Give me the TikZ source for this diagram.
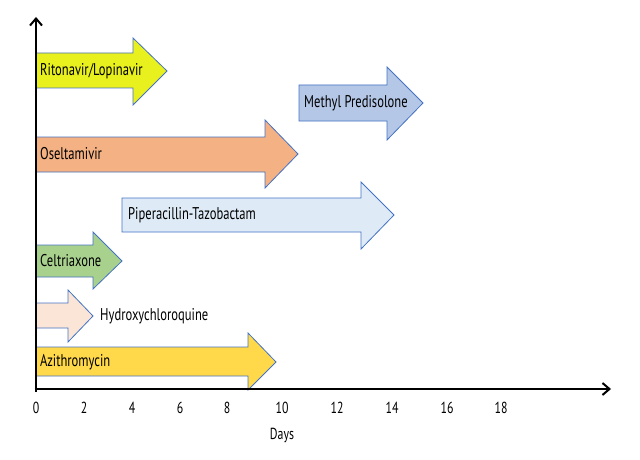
\documentclass[tikz,border=0pt]{standalone}
\usepackage{fontspec}
\setmainfont[FakeStretch=0.74]{PT Sans}
\usetikzlibrary{arrows.meta}
\definecolor{outl}{RGB}{68,114,196}
\definecolor{cRito}{RGB}{232,240,30}
\definecolor{cMeth}{RGB}{180,199,231}
\definecolor{cOsel}{RGB}{244,177,131}
\definecolor{cPip}{RGB}{222,235,247}
\definecolor{cCelt}{RGB}{169,209,142}
\definecolor{cHyd}{RGB}{251,229,214}
\definecolor{cAzi}{RGB}{255,217,74}
\tikzset{
  arrowbox/.style={draw=outl, line width=0.8pt, line join=miter},
  lbl/.style={anchor=west, inner sep=0pt, font=\fontsize{17}{19}\selectfont},
  tick/.style={inner sep=0pt, font=\fontsize{16}{18}\selectfont},
  axis/.style={line width=2.6pt, -{Straight Barb[length=7pt,width=12pt,line width=2pt]}}
}
\begin{document}
\begin{tikzpicture}[x=1pt,y=-1pt]
\useasboundingbox (0,0) rectangle (640,460);
\fill[white] (0,0) rectangle (640,460);
% axes
\coordinate (O) at (36,389);
\coordinate (ytop) at (36,17);
\coordinate (xend) at (611,389);
\draw[axis] (O) -- (ytop);
\draw[axis] (O) -- (xend);
% arrows
\draw[arrowbox, fill=cRito] (36,53) -- (133,53) -- (133,38) -- (167,71) -- (133,105) -- (133,88) -- (36,88) -- cycle;
\node[lbl] (rito) at (40,71) {Ritonavir/Lopinavir};
\draw[arrowbox, fill=cMeth] (299,85) -- (387,85) -- (387,67) -- (423,103) -- (387,140) -- (387,121) -- (299,121) -- cycle;
\node[lbl] (meth) at (304,103) {Methyl Predisolone};
\draw[arrowbox, fill=cOsel] (36,137) -- (265,137) -- (265,120) -- (298,154) -- (265,188) -- (265,172) -- (36,172) -- cycle;
\node[lbl] (osel) at (40,154) {Oseltamivir};
\draw[arrowbox, fill=cPip] (122,198) -- (361,198) -- (361,182) -- (394,215) -- (361,249) -- (361,232) -- (122,232) -- cycle;
\node[lbl] (pip) at (128,215) {Piperacillin-Tazobactam};
\draw[arrowbox, fill=cCelt] (36,245) -- (93,245) -- (93,232) -- (122,261) -- (93,289) -- (93,277) -- (36,277) -- cycle;
\node[lbl] (celt) at (40,261) {Celtriaxone};
\draw[arrowbox, fill=cHyd] (36,303) -- (68,303) -- (68,290) -- (93,316) -- (68,342) -- (68,328) -- (36,328) -- cycle;
\node[lbl] (hyd) at (100,316) {Hydroxychloroquine};
\draw[arrowbox, fill=cAzi] (36,347) -- (248,347) -- (248,333) -- (276,362) -- (248,390) -- (248,376) -- (36,376) -- cycle;
\node[lbl] (azi) at (40,362) {Azithromycin};
% keep axis lines visible over arrow edges
\draw[line width=2.6pt] (36,392) -- (36,30);
\draw[line width=2.6pt] (34.7,389) -- (600,389);
% ticks
\node[tick] (t0) at (36,408) {0};
\node[tick] (t2) at (84,408) {2};
\node[tick] (t4) at (132,408) {4};
\node[tick] (t6) at (180,408) {6};
\node[tick] (t8) at (227,408) {8};
\node[tick] (t10) at (282,408) {10};
\node[tick] (t12) at (337,408) {12};
\node[tick] (t14) at (392,408) {14};
\node[tick] (t16) at (447,408) {16};
\node[tick] (t18) at (501,408) {18};
\node[tick] (days) at (282,435) {Days};
\end{tikzpicture}
\end{document}
